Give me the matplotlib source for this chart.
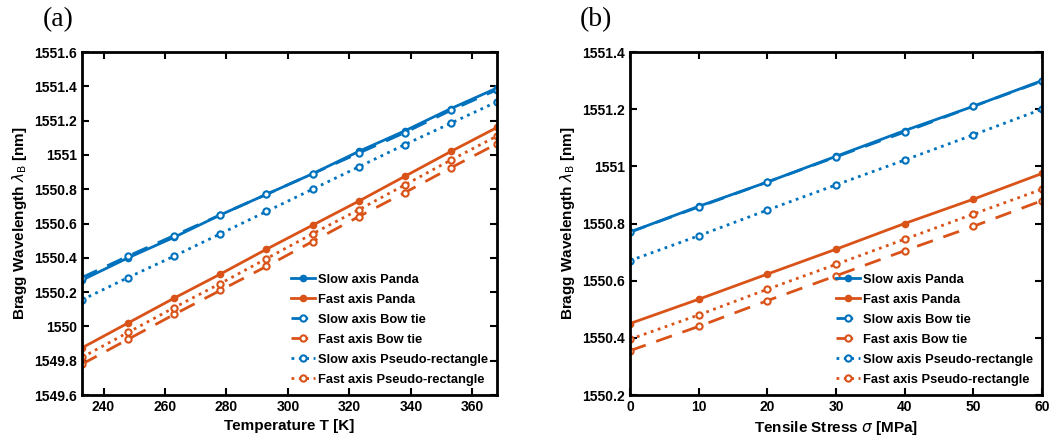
import numpy as np
import matplotlib.pyplot as plt

plt.rcParams['font.family'] = ['Liberation Sans', 'DejaVu Sans']
plt.rcParams['mathtext.fontset'] = 'dejavusans'

blue = '#0072BD'
orange = '#D95319'

# panel (a): temperature
temp = [233, 248, 263, 278, 293, 308, 323, 338, 353, 368]
slow_panda_T = [1550.27, 1550.40, 1550.52, 1550.65, 1550.77, 1550.89, 1551.02, 1551.14, 1551.27, 1551.39]
fast_panda_T = [1549.875, 1550.02, 1550.165, 1550.305, 1550.45, 1550.59, 1550.73, 1550.875, 1551.02, 1551.16]
slow_bow_T = [1550.285, 1550.41, 1550.53, 1550.65, 1550.77, 1550.89, 1551.01, 1551.13, 1551.26, 1551.38]
fast_bow_T = [1549.78, 1549.925, 1550.07, 1550.21, 1550.35, 1550.495, 1550.64, 1550.78, 1550.925, 1551.065]
slow_pr_T = [1550.155, 1550.285, 1550.41, 1550.54, 1550.67, 1550.80, 1550.93, 1551.06, 1551.185, 1551.31]
fast_pr_T = [1549.82, 1549.965, 1550.11, 1550.25, 1550.395, 1550.54, 1550.68, 1550.825, 1550.97, 1551.11]

# panel (b): tensile stress
stress = [0, 10, 20, 30, 40, 50, 60]
slow_panda_S = [1550.77, 1550.86, 1550.945, 1551.035, 1551.125, 1551.21, 1551.30]
fast_panda_S = [1550.45, 1550.535, 1550.623, 1550.71, 1550.80, 1550.885, 1550.975]
slow_bow_S = [1550.77, 1550.858, 1550.945, 1551.033, 1551.12, 1551.21, 1551.298]
fast_bow_S = [1550.355, 1550.44, 1550.53, 1550.617, 1550.705, 1550.79, 1550.88]
slow_pr_S = [1550.67, 1550.757, 1550.847, 1550.935, 1551.022, 1551.11, 1551.20]
fast_pr_S = [1550.395, 1550.48, 1550.57, 1550.657, 1550.745, 1550.833, 1550.92]

labels = ['Slow axis Panda', 'Fast axis Panda', 'Slow axis Bow tie',
          'Fast axis Bow tie', 'Slow axis Pseudo-rectangle', 'Fast axis Pseudo-rectangle']

fig = plt.figure(figsize=(10.62, 4.4), dpi=100)
ax1 = fig.add_axes([82/1062, 1-395/440, 415/1062, 343/440])
ax2 = fig.add_axes([630/1062, 1-395/440, 412/1062, 343/440])


def draw(ax, x, series):
    styles = [(blue, '-', blue), (orange, '-', orange),
              (blue, (0, (6, 4)), 'white'), (orange, (0, (6, 4)), 'white'),
              (blue, ':', 'white'), (orange, ':', 'white')]
    for y, lab, (c, ls, fc) in zip(series, labels, styles):
        ax.plot(x, y, color=c, linestyle=ls, marker='o', markersize=4.5 if fc == 'white' else 4,
                markerfacecolor=fc, markeredgewidth=1.5, linewidth=2, label=lab)
    ax.tick_params(direction='in', top=True, right=True, length=5, width=1.5, labelsize=10)
    for t in ax.get_xticklabels() + ax.get_yticklabels():
        t.set_fontweight('bold')
    for s in ax.spines.values():
        s.set_linewidth(2)
    ax.set_ylabel('Bragg Wavelength $\\lambda_\\mathrm{B}$ [nm]', fontsize=11, fontweight='bold')
    ax.legend(loc='lower right', frameon=False, handlelength=1.8, handletextpad=0.25,
              labelspacing=0.62, borderaxespad=0.3, prop={'weight': 'bold', 'size': 9.3})


draw(ax1, temp, [slow_panda_T, fast_panda_T, slow_bow_T, fast_bow_T, slow_pr_T, fast_pr_T])
ax1.set_xlim(233, 368)
ax1.set_ylim(1549.6, 1551.6)
ax1.set_xticks([240, 260, 280, 300, 320, 340, 360])
ax1.set_yticks(np.arange(1549.6, 1551.61, 0.2))
ax1.set_yticklabels(['1549.6', '1549.8', '1550', '1550.2', '1550.4', '1550.6', '1550.8',
                     '1551', '1551.2', '1551.4', '1551.6'], fontweight='bold')
ax1.set_xlabel('Temperature T [K]', fontsize=11, fontweight='bold')

draw(ax2, stress, [slow_panda_S, fast_panda_S, slow_bow_S, fast_bow_S, slow_pr_S, fast_pr_S])
ax2.set_xlim(0, 60)
ax2.set_ylim(1550.2, 1551.4)
ax2.set_xticks(stress)
ax2.set_yticks(np.arange(1550.2, 1551.41, 0.2))
ax2.set_yticklabels(['1550.2', '1550.4', '1550.6', '1550.8', '1551', '1551.2', '1551.4'],
                    fontweight='bold')
ax2.set_xlabel('Tensile Stress $\\sigma$ [MPa]', fontsize=11, fontweight='bold')

fig.text(43/1062, 1-20/440, '(a)', fontsize=20, family='Liberation Serif', va='center')
fig.text(580/1062, 1-20/440, '(b)', fontsize=20, family='Liberation Serif', va='center')

fig.savefig('out.png', dpi=100)
